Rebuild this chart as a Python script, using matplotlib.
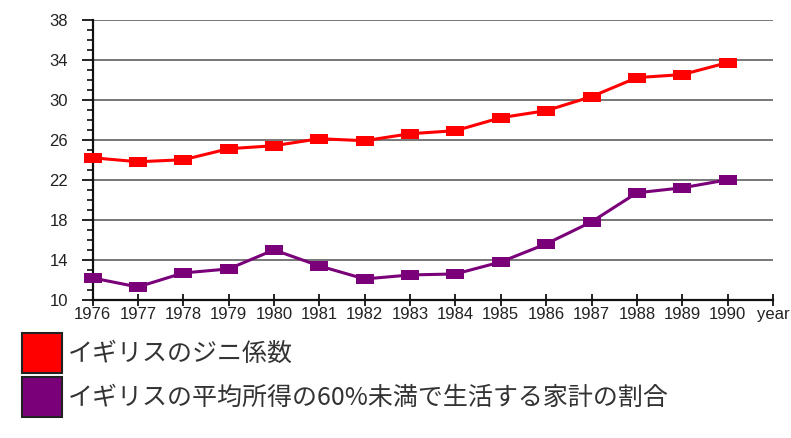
import matplotlib
matplotlib.use("Agg")
import matplotlib.pyplot as plt
from matplotlib.patches import Rectangle
from matplotlib.ticker import MultipleLocator

years = [1976, 1977, 1978, 1979, 1980, 1981, 1982, 1983, 1984, 1985, 1986, 1987, 1988, 1989, 1990]
gini = [24.2, 23.8, 24.0, 25.1, 25.4, 26.1, 25.9, 26.6, 26.9, 28.2, 28.9, 30.3, 32.2, 32.5, 33.7]
below60 = [12.2, 11.3, 12.7, 13.1, 15.0, 13.4, 12.1, 12.5, 12.6, 13.8, 15.6, 17.8, 20.7, 21.2, 22.0]
x_ticks = years + [1991]
x_labels = [str(y) for y in years] + ["year"]
y_ticks = [10, 14, 18, 22, 26, 30, 34, 38]
series_names = ["イギリスのジニ係数", "イギリスの平均所得の60%未満で生活する家計の割合"]
series_colors = ["#ff0000", "#7a007a"]

W, H = 791, 438
fig = plt.figure(figsize=(W / 100, H / 100), dpi=100)
ax = fig.add_axes([92.5 / W, 1 - 300 / H, (773 - 92.5) / W, (300 - 19.5) / H])

marker = [(-0.8, -0.5), (0.8, -0.5), (0.8, 0.5), (-0.8, 0.5), (-0.8, -0.5)]
for vals, col in zip([gini, below60], series_colors):
    ax.plot(years, vals, color=col, lw=2.2, marker=marker, markersize=12.5,
            markeredgewidth=0, markerfacecolor=col, clip_on=False, zorder=3)

ax.set_xlim(1976, 1991)
ax.set_ylim(10, 38)
ax.set_xticks(x_ticks)
ax.set_xticklabels(x_labels)
ax.set_yticks(y_ticks)
ax.yaxis.set_minor_locator(MultipleLocator(1))

for y in y_ticks[1:]:
    ax.axhline(y, color="#606060", lw=1.2, zorder=1)

for s in ["top", "right"]:
    ax.spines[s].set_visible(False)
for s in ["left", "bottom"]:
    ax.spines[s].set_linewidth(1.6)
    ax.spines[s].set_color("#111111")

for lab in ax.get_xticklabels() + ax.get_yticklabels():
    lab.set_fontfamily("Liberation Sans")
    lab.set_fontsize(12)
    lab.set_color("#222222")
ax.tick_params(axis="x", direction="inout", length=8, width=1.3, pad=1, colors="#111111", labelcolor="#222222")
ax.tick_params(axis="y", which="major", direction="out", length=8, width=1.3, pad=9.5, colors="#111111", labelcolor="#222222")
ax.tick_params(axis="y", which="minor", direction="out", length=4, width=1.2, colors="#111111")

# legend
for i, (name, col) in enumerate(zip(series_names, series_colors)):
    top = 333 + i * 44
    rect = Rectangle((22 / W, 1 - (top + 40) / H), 40 / W, 40 / H, transform=fig.transFigure,
                     facecolor=col, edgecolor="#222222", linewidth=1.5)
    fig.patches.append(rect)
    fig.text(68 / W, 1 - (top + 21) / H, name, fontsize=18, color="#333333",
             family=["Noto Sans CJK JP", "DejaVu Sans"], va="center", ha="left")

fig.savefig("out.png", dpi=100, facecolor="white")
